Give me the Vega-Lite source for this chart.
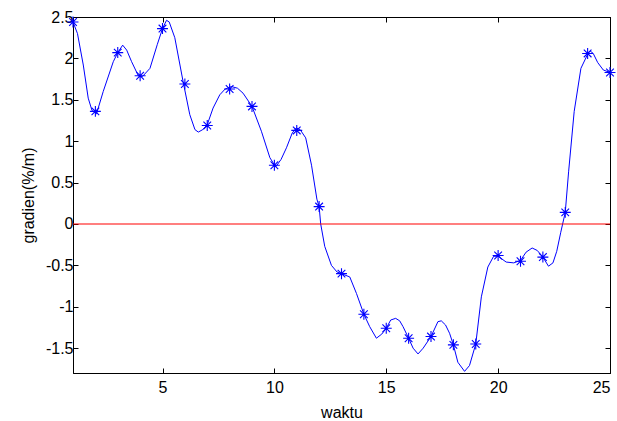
{
  "$schema": "https://vega.github.io/schema/vega-lite/v6.json",
  "width": 537,
  "height": 356,
  "autosize": {"type": "none"},
  "padding": {"left": 73, "top": 17, "right": 7, "bottom": 48},
  "background": "white",
  "config": {
    "view": {"stroke": "black", "strokeWidth": 1},
    "axis": {
      "grid": false,
      "domainColor": "black",
      "tickColor": "black",
      "tickSize": -5,
      "labelColor": "black",
      "labelFont": "Liberation Sans",
      "labelFontSize": 16,
      "titleFont": "Liberation Sans",
      "titleFontSize": 16,
      "titleFontWeight": "normal",
      "titleColor": "black"
    }
  },
  "datasets": {
    "curve": [
      {"x": 1, "y": 2.44}, {"x": 1.2, "y": 2.3}, {"x": 1.46, "y": 1.92}, {"x": 1.68, "y": 1.52}, {"x": 1.85, "y": 1.37},
      {"x": 2.05, "y": 1.33}, {"x": 2.35, "y": 1.6}, {"x": 2.8, "y": 1.96}, {"x": 3.0, "y": 2.07},
      {"x": 3.22, "y": 2.16}, {"x": 3.4, "y": 2.1}, {"x": 3.62, "y": 1.96}, {"x": 3.92, "y": 1.79},
      {"x": 4.1, "y": 1.78}, {"x": 4.44, "y": 1.88}, {"x": 4.77, "y": 2.17}, {"x": 5.0, "y": 2.36},
      {"x": 5.18, "y": 2.46}, {"x": 5.3, "y": 2.44}, {"x": 5.55, "y": 2.25}, {"x": 5.92, "y": 1.72},
      {"x": 6.22, "y": 1.32}, {"x": 6.45, "y": 1.14}, {"x": 6.6, "y": 1.11}, {"x": 6.8, "y": 1.14},
      {"x": 7.0, "y": 1.2}, {"x": 7.26, "y": 1.4}, {"x": 7.56, "y": 1.56}, {"x": 7.8, "y": 1.63},
      {"x": 8.08, "y": 1.66}, {"x": 8.35, "y": 1.64}, {"x": 8.6, "y": 1.58}, {"x": 9.0, "y": 1.42},
      {"x": 9.42, "y": 1.12}, {"x": 9.8, "y": 0.8}, {"x": 10.06, "y": 0.69}, {"x": 10.3, "y": 0.78},
      {"x": 10.54, "y": 0.92}, {"x": 10.8, "y": 1.1}, {"x": 10.98, "y": 1.16}, {"x": 11.15, "y": 1.14},
      {"x": 11.4, "y": 1.04}, {"x": 11.66, "y": 0.71}, {"x": 11.9, "y": 0.3}, {"x": 12.0, "y": 0.21},
      {"x": 12.07, "y": 0.0}, {"x": 12.25, "y": -0.27}, {"x": 12.55, "y": -0.5}, {"x": 12.8, "y": -0.58},
      {"x": 13.0, "y": -0.6}, {"x": 13.37, "y": -0.64}, {"x": 13.67, "y": -0.84}, {"x": 14.0, "y": -1.09},
      {"x": 14.26, "y": -1.24}, {"x": 14.56, "y": -1.38}, {"x": 14.8, "y": -1.33}, {"x": 15.0, "y": -1.26},
      {"x": 15.2, "y": -1.16}, {"x": 15.42, "y": -1.14}, {"x": 15.6, "y": -1.17}, {"x": 15.75, "y": -1.24},
      {"x": 16.0, "y": -1.38}, {"x": 16.2, "y": -1.5}, {"x": 16.42, "y": -1.57}, {"x": 16.65, "y": -1.5},
      {"x": 17.0, "y": -1.36}, {"x": 17.31, "y": -1.18}, {"x": 17.46, "y": -1.17}, {"x": 17.65, "y": -1.22},
      {"x": 17.83, "y": -1.32}, {"x": 18.0, "y": -1.46}, {"x": 18.2, "y": -1.67}, {"x": 18.5, "y": -1.78},
      {"x": 18.72, "y": -1.71}, {"x": 19.0, "y": -1.45}, {"x": 19.25, "y": -0.88}, {"x": 19.54, "y": -0.52},
      {"x": 19.8, "y": -0.39}, {"x": 20.0, "y": -0.39}, {"x": 20.36, "y": -0.46}, {"x": 20.7, "y": -0.47},
      {"x": 21.0, "y": -0.44}, {"x": 21.25, "y": -0.34}, {"x": 21.52, "y": -0.29}, {"x": 21.75, "y": -0.32},
      {"x": 22.0, "y": -0.4}, {"x": 22.25, "y": -0.51}, {"x": 22.45, "y": -0.47}, {"x": 22.62, "y": -0.33},
      {"x": 22.8, "y": -0.1}, {"x": 23.0, "y": 0.14}, {"x": 23.15, "y": 0.63}, {"x": 23.4, "y": 1.36},
      {"x": 23.7, "y": 1.88}, {"x": 24.0, "y": 2.05}, {"x": 24.11, "y": 2.09}, {"x": 24.25, "y": 2.06},
      {"x": 24.45, "y": 1.95}, {"x": 24.7, "y": 1.86}, {"x": 25.0, "y": 1.83}
    ],
    "points": [
      {"x": 1, "y": 2.44}, {"x": 2, "y": 1.36}, {"x": 3, "y": 2.07}, {"x": 4, "y": 1.79}, {"x": 5, "y": 2.36},
      {"x": 6, "y": 1.69}, {"x": 7, "y": 1.19}, {"x": 8, "y": 1.63}, {"x": 9, "y": 1.42}, {"x": 10, "y": 0.71},
      {"x": 11, "y": 1.13}, {"x": 12, "y": 0.21}, {"x": 13, "y": -0.6}, {"x": 14, "y": -1.09}, {"x": 15, "y": -1.26},
      {"x": 16, "y": -1.38}, {"x": 17, "y": -1.36}, {"x": 18, "y": -1.46}, {"x": 19, "y": -1.45}, {"x": 20, "y": -0.38},
      {"x": 21, "y": -0.45}, {"x": 22, "y": -0.4}, {"x": 23, "y": 0.14}, {"x": 24, "y": 2.06}, {"x": 25, "y": 1.83}
    ]
  },
  "layer": [
    {
      "data": {"name": "curve"},
      "mark": {"type": "line", "color": "#0000ff", "strokeWidth": 1, "clip": true},
      "encoding": {
        "x": {"field": "x", "type": "quantitative", "scale": {"domain": [1, 25], "nice": false, "zero": false},
          "axis": {"title": "waktu", "values": [5, 10, 15, 20, 25], "labelExpr": "toString(datum.value)", "labelPadding": 11, "titlePadding": 9}},
        "y": {"field": "y", "type": "quantitative", "scale": {"domain": [-1.8, 2.5], "nice": false, "zero": false},
          "axis": {"title": "gradien(%/m)", "values": [-1.5, -1, -0.5, 0, 0.5, 1, 1.5, 2, 2.5], "labelExpr": "toString(datum.value)", "labelPadding": 5, "titlePadding": 9}}
      }
    },
    {
      "data": {"name": "points"},
      "mark": {"type": "point", "shape": "M-1,0L1,0M0,-1L0,1M-0.7,-0.7L0.7,0.7M-0.7,0.7L0.7,-0.7", "filled": false, "color": "#0000ff", "strokeWidth": 1.1, "size": 120, "opacity": 1},
      "encoding": {
        "x": {"field": "x", "type": "quantitative", "axis": {"orient": "top", "labels": false, "title": null, "values": [5, 10, 15, 20, 25]}},
        "y": {"field": "y", "type": "quantitative", "axis": {"orient": "right", "labels": false, "title": null, "values": [-1.5, -1, -0.5, 0, 0.5, 1, 1.5, 2, 2.5]}}
      }
    },
    {
      "data": {"values": [{"level": 0}]},
      "mark": {"type": "rule", "color": "#ff0000", "strokeWidth": 1.2},
      "encoding": {
        "y": {"field": "level", "type": "quantitative", "axis": null}
      }
    }
  ],
  "resolve": {"axis": {"x": "independent", "y": "independent"}}
}
